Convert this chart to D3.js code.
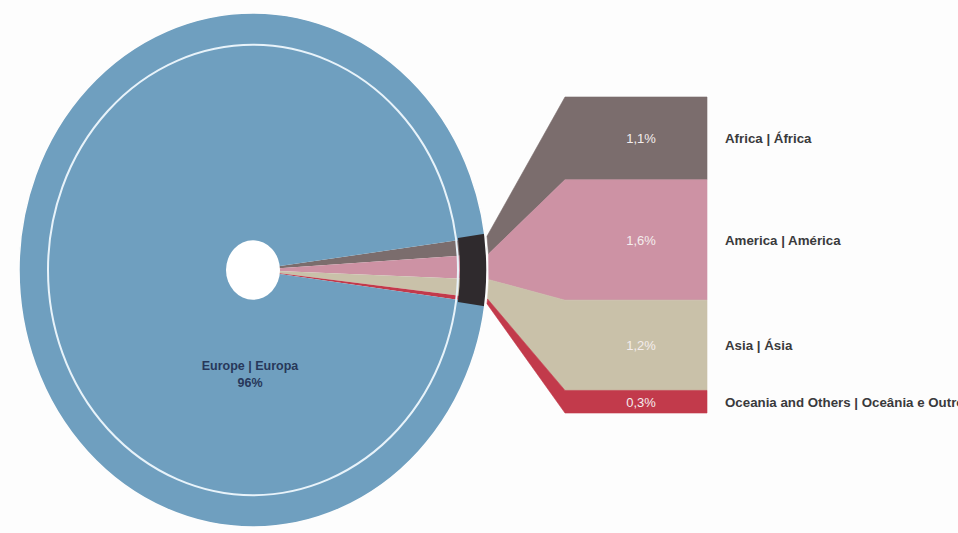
<!DOCTYPE html>
<html>
<head>
<meta charset="utf-8">
<script src="https://cdn.jsdelivr.net/npm/d3@7"></script>
<style>
  html, body { margin: 0; padding: 0; background: #fdfdfd; }
  svg { display: block; }
  text { font-family: "Liberation Sans", Arial, sans-serif; }
</style>
</head>
<body>
<svg id="chart" width="958" height="533"></svg>
<script>
// ---- data ----
const categories = ["Europe | Europa", "Africa | África", "America | América", "Asia | Ásia", "Oceania and Others | Oceânia e Outros"];
const values = [96, 1.1, 1.6, 1.2, 0.3];
const valueLabels = ["96%", "1,1%", "1,6%", "1,2%", "0,3%"];
const colors = ["#6f9fbf", "#7b6d6d", "#cd92a4", "#c9c1a9", "#c23a4b"];

// ---- layout ----
const svg = d3.select("#chart");
const cx = 253, cy = 270, rx = 234, ry = 257;
const sy = ry / rx;
const ringR = 205, holeR = 27;
const barX0 = 565, barX1 = 707, barTop = 97, barBottom = 413;

// pie order: the small slices first (clockwise from top on the right side), then Europe
const order = [1, 2, 3, 4, 0];
const total = d3.sum(values);
const smallSum = d3.sum(values.slice(1));
const span = smallSum / total * 2 * Math.PI;
const start = Math.PI / 2 - span / 2;

const pie = d3.pie().sort(null).value(i => values[i]).startAngle(start).endAngle(start + 2 * Math.PI);
const arcs = pie(order);

const g = svg.append("g").attr("transform", `translate(${cx},${cy}) scale(1,${sy})`);
const arc = d3.arc().innerRadius(0).outerRadius(rx);

g.selectAll("path.slice").data(arcs).join("path")
  .attr("class", "slice")
  .attr("d", arc)
  .attr("fill", d => colors[d.data]);

// dark band over the small slices in the outer ring
const smallArcs = arcs.filter(d => d.data !== 0);
const a0 = d3.min(smallArcs, d => d.startAngle), a1 = d3.max(smallArcs, d => d.endAngle);
g.append("path")
  .attr("d", d3.arc().innerRadius(ringR + 2).outerRadius(rx)({startAngle: a0 - 0.01, endAngle: a1 + 0.01}))
  .attr("fill", "#2f2a2d");

// white ring
g.append("circle").attr("r", ringR).attr("fill", "none")
  .attr("stroke", "#e8f3fa").attr("stroke-width", 2).attr("vector-effect", "non-scaling-stroke");
// outer edge
g.append("circle").attr("r", rx).attr("fill", "none")
  .attr("stroke", "#fdfdfd").attr("stroke-width", 1.5).attr("vector-effect", "non-scaling-stroke");
// hole
g.append("circle").attr("r", holeR).attr("fill", "#ffffff");

// ---- bar of pie ----
const y = d3.scaleLinear().domain([0, smallSum]).range([barTop, barBottom]);
const edge = a => [cx + rx * Math.sin(a) + 2, cy - ry * Math.cos(a)];

let cum = 0;
const segs = [1, 2, 3, 4].map(i => {
  const s = { i, v0: cum, v1: cum + values[i] };
  cum += values[i];
  s.arc = arcs.find(d => d.data === i);
  return s;
});

svg.selectAll("path.seg").data(segs).join("path")
  .attr("class", "seg")
  .attr("d", s => {
    const p0 = edge(s.arc.startAngle), p1 = edge(s.arc.endAngle);
    const path = d3.path();
    path.moveTo(p0[0], p0[1]);
    path.lineTo(barX0, y(s.v0));
    path.lineTo(barX1, y(s.v0));
    path.lineTo(barX1, y(s.v1));
    path.lineTo(barX0, y(s.v1));
    path.lineTo(p1[0], p1[1]);
    path.closePath();
    return path.toString();
  })
  .attr("fill", s => colors[s.i])
  .attr("stroke", s => colors[s.i])
  .attr("stroke-width", 0.6);

// percent labels inside bar
svg.selectAll("text.pct").data(segs).join("text")
  .attr("class", "pct")
  .attr("x", (barX0 + barX1) / 2 + 5)
  .attr("y", s => (y(s.v0) + y(s.v1)) / 2 + 5)
  .attr("text-anchor", "middle")
  .attr("font-size", 13)
  .attr("fill", "#f4eded")
  .text(s => valueLabels[s.i]);

// category labels
svg.selectAll("text.cat").data(segs).join("text")
  .attr("class", "cat")
  .attr("x", 725)
  .attr("y", s => (y(s.v0) + y(s.v1)) / 2 + 5)
  .attr("font-size", 13.3)
  .attr("font-weight", "bold")
  .attr("fill", "#3a3a3c")
  .text(s => categories[s.i]);

// Europe label
svg.append("text").attr("x", 250).attr("y", 370).attr("text-anchor", "middle")
  .attr("font-size", 12.5).attr("font-weight", "bold").attr("fill", "#27385a")
  .text(categories[0]);
svg.append("text").attr("x", 250).attr("y", 387).attr("text-anchor", "middle")
  .attr("font-size", 12.5).attr("font-weight", "bold").attr("fill", "#27385a")
  .text(valueLabels[0]);
</script>
</body>
</html>
